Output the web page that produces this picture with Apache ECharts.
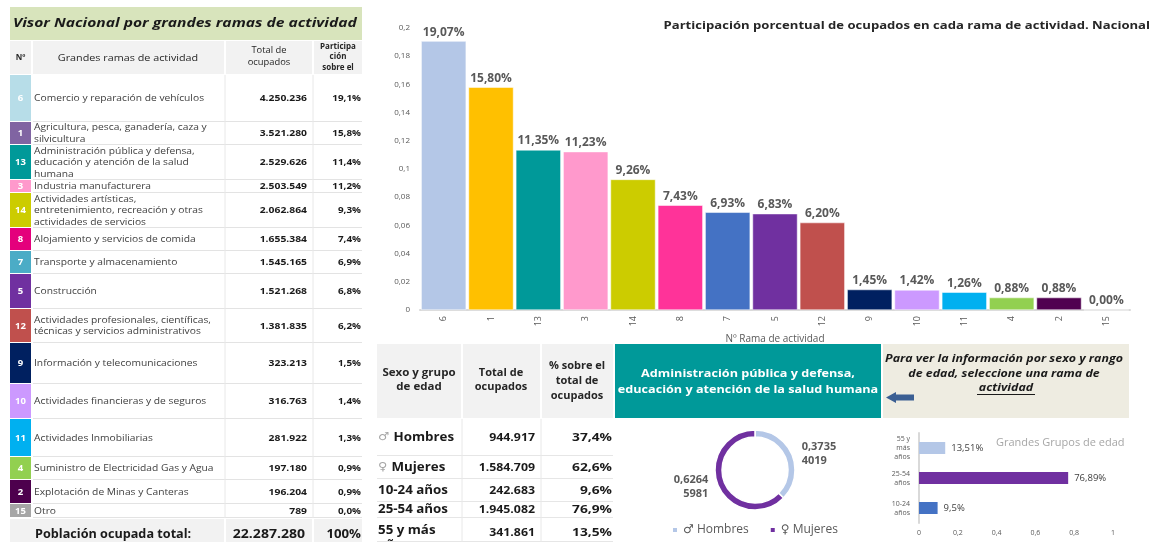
<!DOCTYPE html>
<html><head><meta charset="utf-8">
<script src="https://cdn.jsdelivr.net/npm/echarts@6/dist/echarts.min.js"></script>
<style>html,body{margin:0;padding:0;background:#fff}#c{width:1157px;height:542px}</style>
</head><body><div id="c"></div>
<script>
// ---------------- DATA ----------------
const branchNums = ['6','1','13','3','14','8','7','5','12','9','10','11','4','2','15'];
const branchNames = [
  'Comercio y reparación de vehículos',
  'Agricultura, pesca, ganadería, caza y\nsilvicultura',
  'Administración pública y defensa,\neducación y atención de la salud\nhumana',
  'Industria manufacturera',
  'Actividades artísticas,\nentretenimiento, recreación y otras\nactividades de servicios',
  'Alojamiento y servicios de comida',
  'Transporte y almacenamiento',
  'Construcción',
  'Actividades profesionales, científicas,\ntécnicas y servicios administrativos',
  'Información y telecomunicaciones',
  'Actividades financieras y de seguros',
  'Actividades Inmobiliarias',
  'Suministro de Electricidad Gas y Agua',
  'Explotación de Minas y Canteras',
  'Otro'
];
const branchTotals = [4250236,3521280,2529626,2503549,2062864,1655384,1545165,1521268,1381835,323213,316763,281922,197180,196204,789];
const branchShareText = ['19,1%','15,8%','11,4%','11,2%','9,3%','7,4%','6,9%','6,8%','6,2%','1,5%','1,4%','1,3%','0,9%','0,9%','0,0%'];
const barShares = [0.1907,0.1580,0.1135,0.1123,0.0926,0.0743,0.0693,0.0683,0.0620,0.0145,0.0142,0.0126,0.0088,0.0088,0.0000];
const totalEmployed = 22287280;
const totalShareText = '100%';

const selectedBranch = 'Administración pública y defensa,\neducación y atención de la salud humana';
const sexAgeLabels = ['Hombres','Mujeres','10-24 años','25-54 años','55 y más\naños'];
const sexAgeSymbols = ['♂','♀','','',''];
const sexAgeTotals = [944917,1584709,242683,1945082,341861];
const sexAgePct = ['37,4%','62,6%','9,6%','76,9%','13,5%'];

const sexNames = ['♂ Hombres','♀ Mujeres'];
const sexShares = [0.37354019,0.62645981];

const ageCats = ['10-24\naños','25-54\naños','55 y\nmás\naños'];
const ageShares = [0.0959,0.7689,0.1351];
const ageLabelText = ['9,5%','76,89%','13,51%'];

// ---------------- STYLE / LAYOUT ----------------
const FONT = '"Open Sans", "DejaVu Sans", sans-serif';
const cellColors = ['#b7dde8','#8064a2','#009999','#ff99cc','#cccc00','#e4007c','#4bacc6','#7030a0','#c0504d','#002060','#cc99ff','#00b0f0','#92d050','#4d004d','#a6a6a6'];
const barColors = ['#b4c7e7','#ffc000','#009999','#ff99cc','#cccc00','#ff3399','#4472c4','#7030a0','#c0504d','#002060','#cc99ff','#00b0f0','#92d050','#500050','#a6a6a6'];
const pieColors = ['#b4c7e7','#7030a0'];
const ageColors = ['#4472c4','#7030a0','#b4c7e7'];
const rowEdges = [75,122,145,180,193,228,251,274,309,343,384,419,457,480,504,518];
const sexRowEdges = [419,456,479,502,518,542];

function fmtInt(n){ return String(n).replace(/\B(?=(\d{3})+(?!\d))/g,'.'); }
function R(x,y,w,h,fill){ return {type:'rect',silent:true,shape:{x:x,y:y,width:w,height:h},style:{fill:fill}}; }
function L(x1,y1,x2,y2,c,w){ return {type:'line',silent:true,shape:{x1:x1,y1:y1,x2:x2,y2:y2},style:{stroke:c,lineWidth:w||1}}; }
function T(x,y,text,o){
  o = Object.assign({}, o||{});
  const sx = o.sx || 1; delete o.sx;
  const s = Object.assign({text:text,fill:'#262626',fontFamily:FONT,fontSize:9,fontWeight:'normal',align:'left',verticalAlign:'middle'}, o);
  s.textAlign = s.align; s.textVerticalAlign = s.verticalAlign;
  return {type:'text',silent:true,x:x,y:y,scaleX:sx,style:s};
}

const G = [];
// Left table title
G.push(R(10,7,352,33,'#d8e4bc'));
G.push(T(13,23,'Visor Nacional por grandes ramas de actividad',{fontWeight:'bold',fontStyle:'italic',fontSize:13,fill:'#1a1a1a',sx:1.2}));
// header
G.push(R(10,41,21,33,'#f2f2f2'),R(33,41,191,33,'#f2f2f2'),R(226,41,86,33,'#f2f2f2'),R(314,41,48,33,'#f2f2f2'));
G.push(T(20.5,58,'Nº',{fontWeight:'bold',fontSize:8,align:'center'}));
G.push(T(128,58,'Grandes ramas de actividad',{fontSize:9,align:'center',sx:1.2}));
G.push(T(269,57,'Total de\nocupados',{fontSize:8.5,align:'center',lineHeight:12,sx:1.1}));
G.push(T(338,57,'Participa\nción\nsobre el',{fontSize:8,fontWeight:'bold',align:'center',lineHeight:10.5}));
// body rows
for (let i=0;i<branchNums.length;i++){
  const y0=rowEdges[i], y1=rowEdges[i+1], yc=(y0+y1)/2;
  G.push(R(10,y0,21,y1-y0-1,cellColors[i]));
  G.push(T(20.5,yc,branchNums[i],{fill:'#ffffff',fontWeight:'bold',fontSize:9.5,align:'center'}));
  G.push(T(34,yc,branchNames[i],{fill:'#404040',fontSize:9,lineHeight:11.5,sx:1.14}));
  G.push(T(307,yc,fmtInt(branchTotals[i]),{fontWeight:'bold',fontSize:9,fill:'#1a1a1a',align:'right',sx:1.15}));
  G.push(T(361,yc,branchShareText[i],{fontWeight:'bold',fontSize:9,fill:'#1a1a1a',align:'right',sx:1.1}));
  G.push(L(33,y1-0.5,362,y1-0.5,'#e3e3e3',1));
}
G.push(L(225,75,225,518,'#e8e8e8',1),L(313,75,313,518,'#e8e8e8',1));
// total row
G.push(R(10,519,214,23,'#f2f2f2'),R(226,519,86,23,'#f2f2f2'),R(314,519,48,23,'#f2f2f2'));
G.push(T(35,535,'Población ocupada total:',{fontWeight:'bold',fontSize:11.5,fill:'#1a1a1a',sx:1.1}));
G.push(T(305,535,fmtInt(totalEmployed),{fontWeight:'bold',fontSize:11.5,fill:'#1a1a1a',align:'right',sx:1.22}));
G.push(T(361,535,totalShareText,{fontWeight:'bold',fontSize:11.5,fill:'#1a1a1a',align:'right',sx:1.15}));

// Sex / age table
G.push(R(377,344,84,74,'#f2f2f2'),R(463,344,77,74,'#f2f2f2'),R(542,344,71,74,'#f2f2f2'));
G.push(T(419,380,'Sexo y grupo\nde edad',{fontWeight:'bold',fontSize:10,align:'center',lineHeight:14,sx:1.15}));
G.push(T(501,380,'Total de\nocupados',{fontWeight:'bold',fontSize:10,align:'center',lineHeight:14,sx:1.1}));
G.push(T(577,381,'% sobre el\ntotal de\nocupados',{fontWeight:'bold',fontSize:10,align:'center',lineHeight:15,sx:1.1}));
for (let i=0;i<sexAgeLabels.length;i++){
  const y0=sexRowEdges[i], y1=sexRowEdges[i+1], yc=(y0+y1)/2 + (i===4?3:0);
  const lab = sexAgeSymbols[i] ? '{s|'+sexAgeSymbols[i]+' }{b|'+sexAgeLabels[i]+'}' : '{b|'+sexAgeLabels[i]+'}';
  G.push(T(378,i===4?yc+5:yc,lab,{lineHeight:15,sx:1.16,rich:{s:{fontSize:11,fill:'#a6a6a6',fontFamily:'"DejaVu Sans"'},b:{fontSize:11.5,fontWeight:'bold',fill:'#1a1a1a',fontFamily:FONT,lineHeight:15}}}));
  G.push(T(535,yc,fmtInt(sexAgeTotals[i]),{fontWeight:'bold',fontSize:11,fill:'#1a1a1a',align:'right',sx:1.12}));
  G.push(T(612,yc,sexAgePct[i],{fontWeight:'bold',fontSize:11,fill:'#1a1a1a',align:'right',sx:1.25}));
  G.push(L(377,y1-0.5,613,y1-0.5,'#e6e6e6',1));
}
G.push(L(462,419,462,542,'#e8e8e8',1),L(541,419,541,542,'#e8e8e8',1));

// Teal selected branch box
G.push(R(615,344,266,74,'#009999'));
G.push(T(748,382,selectedBranch,{fill:'#ffffff',fontWeight:'bold',fontSize:11,align:'center',lineHeight:16,sx:1.15}));
// Beige instruction box
G.push(R(883,344,246,74,'#eeece1'));
G.push(T(1004,359,'Para ver la información por sexo y rango',{fontWeight:'bold',fontStyle:'italic',fontSize:10,fill:'#1a1a1a',align:'center',sx:1.24}));
G.push(T(1004,374,'de edad, seleccione una rama de',{fontWeight:'bold',fontStyle:'italic',fontSize:10,fill:'#1a1a1a',align:'center',sx:1.24}));
G.push(T(1006,388,'actividad',{fontWeight:'bold',fontStyle:'italic',fontSize:10,fill:'#1a1a1a',align:'center',sx:1.24}));
G.push(L(977,394.5,1035,394.5,'#1a1a1a',1));
G.push({type:'polygon',silent:true,shape:{points:[[886,397.5],[896,392],[896,394.5],[914,394.5],[914,400.5],[896,400.5],[896,403]]},style:{fill:'#3b5f93'}});
// Chart titles (stretched like the reference)
G.push(T(1150,26,'Participación porcentual de ocupados en cada rama de actividad. Nacional',{fontWeight:'bold',fontSize:11,fill:'#262626',align:'right',sx:1.19}));
G.push(T(996,443,'Grandes Grupos de edad',{fontSize:10,fill:'#a6a6a6',sx:1.1}));

// ---------------- CHART ----------------
const chart = echarts.init(document.getElementById('c'), null, {renderer:'canvas'});
chart.setOption({
  animation:false,
  backgroundColor:'#ffffff',
  textStyle:{fontFamily:FONT},
  legend:{data:sexNames,left:666,top:519,icon:'rect',itemWidth:6,itemHeight:6,itemGap:20,
    textStyle:{fontSize:12,color:'#595959',fontFamily:FONT}},
  grid:[
    {left:420,right:27,top:28,bottom:232,containLabel:false},
    {left:919,right:44,top:433,bottom:19,containLabel:false}
  ],
  xAxis:[
    {type:'category',gridIndex:0,data:branchNums,
     axisLine:{lineStyle:{color:'#d9d9d9',width:2}},axisTick:{show:false},
     axisLabel:{rotate:90,fontSize:9,color:'#595959',margin:6},
     name:'Nº Rama de actividad',nameLocation:'middle',nameGap:22,nameTextStyle:{fontSize:10,color:'#595959'}},
    {type:'value',gridIndex:1,min:0,max:1,interval:0.2,splitLine:{show:false},axisLine:{show:false},axisTick:{show:false},
     axisLabel:{fontSize:7,color:'#595959',margin:6,formatter:function(v){return String(+v.toFixed(1)).replace('.',',');}}}
  ],
  yAxis:[
    {type:'value',gridIndex:0,min:0,max:0.2,interval:0.02,splitLine:{show:false},axisLine:{show:false},axisTick:{show:false},
     axisLabel:{fontSize:8,color:'#595959',margin:10,formatter:function(v){return String(+v.toFixed(2)).replace('.',',');}}},
    {type:'category',gridIndex:1,data:ageCats,axisLine:{lineStyle:{color:'#d9d9d9',width:2}},axisTick:{show:false},
     axisLabel:{fontSize:7,color:'#595959',lineHeight:9,margin:9}}
  ],
  series:[
    {type:'bar',xAxisIndex:0,yAxisIndex:0,barCategoryGap:'5%',
     data:barShares.map(function(v,i){return {value:v,itemStyle:{color:barColors[i]}};}),
     itemStyle:{borderColor:'#ffffff',borderWidth:0.5},
     label:{show:true,position:'top',distance:3,fontSize:12,fontWeight:'bold',color:'#595959',
       formatter:function(p){return (p.value*100).toFixed(2).replace('.',',')+'%';}}},
    {type:'bar',xAxisIndex:1,yAxisIndex:1,barWidth:12,
     data:ageShares.map(function(v,i){return {value:v,itemStyle:{color:ageColors[i]}};}),
     label:{show:true,position:'right',distance:6,fontSize:9.5,color:'#404040',
       formatter:function(p){return ageLabelText[p.dataIndex];}}},
    {type:'pie',center:[755,470],radius:[33,40],startAngle:90,clockwise:true,avoidLabelOverlap:false,
     data:sexNames.map(function(n,i){return {name:n,value:sexShares[i],itemStyle:{color:pieColors[i]}};}),
     itemStyle:{borderColor:'#ffffff',borderWidth:1.5},
     label:{show:true,position:'outside',fontSize:11,fontWeight:'bold',color:'#595959',lineHeight:14,align:'center',
       formatter:function(p){var s=String(p.value).replace('.',',');return s.slice(0,6)+'\n'+s.slice(6);}},
     labelLine:{show:false,length:3,length2:2}}
  ],
  graphic:{elements:G}
});
</script>
</body></html>
